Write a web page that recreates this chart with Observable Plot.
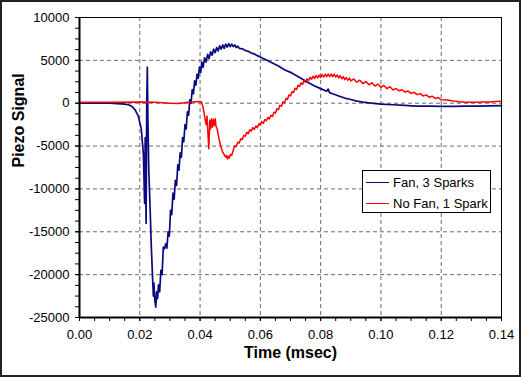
<!DOCTYPE html>
<html>
<head>
<meta charset="utf-8">
<script src="https://cdn.jsdelivr.net/npm/d3@7"></script>
<script src="https://cdn.jsdelivr.net/npm/@observablehq/plot@0.6"></script>
<style>
  html, body { margin: 0; padding: 0; background: #fff; }
  #wrap { position: relative; width: 521px; height: 377px; }
  #border { position: absolute; left: 0px; top: 0px; width: 517px; height: 373px; border: 2px solid #222; pointer-events: none; }
  #legend { position: absolute; left: 362px; top: 170px; width: 127px; height: 41px; border: 1px solid #000; background: #fff;
            font-family: "Liberation Sans", Arial, sans-serif; font-size: 13px; color: #000; }
  .row { position: absolute; left: 0; height: 16px; display: flex; align-items: center; }
  .sw { width: 23px; height: 0; border-top: 1.5px solid; margin-left: 3px; margin-right: 4px; }
</style>
</head>
<body>
<div id="wrap">
  <div id="chart"></div>
  <div id="legend"></div>
  <div id="border"></div>
</div>
<script>
// Series names
const seriesNames = ["Fan, 3 Sparks", "No Fan, 1 Spark"];
const seriesColors = ["#0a0a80", "#ff0000"];

// Fan, 3 Sparks: time (msec)
const fanTime = [
  0.000, 0.010, 0.0125, 0.0150, 0.0165, 0.0175, 0.0185, 0.0195, 0.0205, 0.0212,
  0.0216, 0.0218, 0.0221, 0.0223, 0.0225, 0.0227, 0.0230, 0.0234, 0.0238, 0.0242,
  0.0245, 0.0247, 0.0250, 0.0253, 0.0256, 0.0259, 0.0262, 0.0266, 0.0270, 0.0274,
  0.0278, 0.0282, 0.0286, 0.0290, 0.0294, 0.0298, 0.0302, 0.0306, 0.0310, 0.0314,
  0.0318, 0.0322, 0.0326, 0.0330, 0.0334, 0.0338, 0.0342, 0.0346, 0.0350, 0.0354,
  0.0358, 0.0362, 0.0366, 0.0370, 0.0374, 0.0378, 0.0382, 0.0386, 0.0390, 0.0394,
  0.0398, 0.0402, 0.0406, 0.0410, 0.0415, 0.0420, 0.0425, 0.0430, 0.0435, 0.0440,
  0.0445, 0.0450, 0.0455, 0.0460, 0.0465, 0.0470, 0.0475, 0.0480, 0.0485, 0.0490,
  0.0495, 0.0500, 0.0505, 0.0510, 0.0515, 0.0520, 0.0525, 0.0530, 0.0540, 0.0550,
  0.0560, 0.0570, 0.0580, 0.0590, 0.0600, 0.0610, 0.0620, 0.0640, 0.0660, 0.0680,
  0.0700, 0.0720, 0.0740, 0.0760, 0.0780, 0.0800, 0.0820, 0.0825, 0.0830, 0.0840,
  0.0860, 0.0880, 0.0900, 0.0920, 0.0940, 0.0960, 0.1000, 0.1040, 0.1080, 0.1100,
  0.1120, 0.1160, 0.1200, 0.1240, 0.1280, 0.1320, 0.1360, 0.1400
];
// Fan, 3 Sparks: piezo signal
const fanSignal = [
  0, 0, -50, -100, -200, -400, -800, -1500, -3000, -6000,
  -11700, -4000, -14000, 0, 4200, -2000, -8000, -12000, -16500, -20000,
  -22500, -21000, -23000, -23800, -22000, -22800, -21200, -22000, -19500, -20000,
  -16800, -17000, -16400, -16900, -15000, -15500, -12500, -13000, -10500, -11200,
  -9000, -9600, -7200, -7800, -5800, -6300, -4000, -4500, -2500, -3000,
  -1000, -1400, 400, 0, 1600, 1100, 2600, 2100, 3400, 2900,
  4200, 3600, 4800, 4200, 5300, 4800, 5700, 5200, 6000, 5600,
  6300, 5900, 6500, 6100, 6700, 6300, 6800, 6400, 6900, 6550,
  6950, 6600, 6900, 6600, 6800, 6500, 6650, 6400, 6350, 6150,
  6050, 5850, 5750, 5550, 5400, 5200, 5050, 4700, 4350, 3900,
  3600, 3200, 2800, 2400, 2000, 1700, 1400, 1650, 1200, 1100,
  850, 600, 430, 250, 120, 30, -100, -180, -260, -300,
  -330, -350, -360, -360, -350, -330, -300, -270
];

// No Fan, 1 Spark: time (msec)
const noFanTime = [
  0.000, 0.010, 0.020, 0.025, 0.030, 0.033, 0.036, 0.0400, 0.0405, 0.0410,
  0.0415, 0.0420, 0.0423, 0.0426, 0.0429, 0.0432, 0.0435, 0.0438, 0.0441, 0.0444,
  0.0447, 0.0450, 0.0453, 0.0456, 0.0460, 0.0465, 0.0470, 0.0475, 0.0480, 0.0485,
  0.0488, 0.0491, 0.0494, 0.0497, 0.0500, 0.0505,
  0.0510, 0.0515, 0.0520, 0.0525, 0.0530, 0.0535, 0.0540, 0.0545, 0.0550, 0.0555,
  0.0560, 0.0565, 0.0570, 0.0575, 0.0580, 0.0585, 0.0590, 0.0595, 0.0600, 0.0605,
  0.0610, 0.0615, 0.0620, 0.0625, 0.0630, 0.0635, 0.0640, 0.0645, 0.0650, 0.0655,
  0.0660, 0.0665, 0.0670, 0.0675, 0.0680, 0.0685, 0.0690, 0.0695, 0.0700, 0.0705,
  0.0710, 0.0715, 0.0720, 0.0725, 0.0730, 0.0735, 0.0740, 0.0745, 0.0750, 0.0755,
  0.0760, 0.0765, 0.0770, 0.0775, 0.0780, 0.0785, 0.0790, 0.0795, 0.0800, 0.0805,
  0.0810, 0.0815, 0.0820, 0.0825, 0.0830, 0.0835, 0.0840, 0.0845, 0.0850, 0.0855,
  0.0860, 0.0865, 0.0870, 0.0875, 0.0880, 0.0885, 0.0890, 0.0895, 0.0900, 0.0910,
  0.0920, 0.0930, 0.0940, 0.0950, 0.0960, 0.0970, 0.0980, 0.0990, 0.1000, 0.1010,
  0.1020, 0.1030, 0.1040, 0.1050, 0.1060, 0.1070, 0.1080, 0.1090, 0.1100, 0.1110,
  0.1120, 0.1130, 0.1140, 0.1150, 0.1160, 0.1170, 0.1180, 0.1190, 0.1200, 0.1220,
  0.1240, 0.1260, 0.1280, 0.1300, 0.1320, 0.1340, 0.1360, 0.1380, 0.1400
];
// No Fan, 1 Spark: piezo signal
const noFanSignal = [
  100, 120, 150, 100, 0, -20, 100, 200, 150, -500,
  -1500, -2500, -1500, -3500, -5300, -2000, -3000, -1800, -2800, -1900,
  -2600, -1800, -2700, -2900, -3600, -4500, -5200, -5700, -6000, -6300,
  -6100, -6500, -6200, -6400, -6000, -6100,
  -5500, -5000, -5050, -4550, -4650, -4150, -4250, -3750, -3850, -3400,
  -3550, -3100, -3250, -2850, -3050, -2650, -2850, -2400, -2550, -2150,
  -2350, -1900, -2050, -1650, -1850, -1400, -1550, -1050, -1150, -650,
  -750, -250, -350, 150, 50, 550, 450, 950, 850, 1350,
  1250, 1730, 1600, 2080, 1950, 2380, 2200, 2630, 2450, 2850,
  2650, 3030, 2800, 3150, 2900, 3230, 2950, 3280, 3000, 3330,
  3050, 3380, 3100, 3400, 3100, 3400, 3100, 3380, 3050, 3300,
  2950, 3200, 2850, 3100, 2750, 3000, 2680, 2930, 2600, 2830,
  2450, 2680, 2300, 2530, 2150, 2380, 2000, 2230, 1850, 2080,
  1700, 1930, 1550, 1720, 1450, 1570, 1300, 1420, 1150, 1270,
  1000, 1120, 850, 970, 700, 820, 550, 670, 400, 380,
  270, 180, 120, 100, 100, 130, 150, 200, 230
];

// Axis ticks
const xTicks = [0.00, 0.02, 0.04, 0.06, 0.08, 0.10, 0.12, 0.14];
const yTicks = [-25000, -20000, -15000, -10000, -5000, 0, 5000, 10000];
const xMinor = d3.range(0, 0.14 + 1e-9, 0.005);
const yMinor = d3.range(-25000, 10001, 1250);

const fan = fanTime.map((t, i) => ({t, v: fanSignal[i]}));
const noFan = noFanTime.map((t, i) => ({t, v: noFanSignal[i]}));

const font = "'Liberation Sans', Arial, Helvetica, sans-serif";
const chart = Plot.plot({
  width: 521,
  height: 377,
  marginLeft: 79,
  marginRight: 20,
  marginTop: 17,
  marginBottom: 60,
  style: {fontFamily: font, fontSize: "12px", background: "transparent", color: "#000"},
  x: {domain: [0, 0.14]},
  y: {domain: [-25000, 10000]},
  marks: [
    Plot.gridX(xTicks.slice(1, -1), {stroke: "#6a6a6a", strokeOpacity: 1, strokeDasharray: "4,3", strokeWidth: 1}),
    Plot.gridY(yTicks.slice(1, -1), {stroke: "#6a6a6a", strokeOpacity: 1, strokeDasharray: "4,3", strokeWidth: 1}),
    Plot.line(fan, {x: "t", y: "v", stroke: seriesColors[0], strokeWidth: 1.7}),
    Plot.line(noFan, {x: "t", y: "v", stroke: seriesColors[1], strokeWidth: 1.5}),
    Plot.frame({stroke: "#000", strokeWidth: 1}),
    Plot.ruleX([0], {stroke: "#000", strokeWidth: 2}),
    Plot.ruleY([-25000], {stroke: "#000", strokeWidth: 2}),
    Plot.axisX(xMinor, {tickSize: 4, tickFormat: null, text: null, label: null, strokeWidth: 1}),
    Plot.axisX(xTicks, {tickSize: 4, tickPadding: 8, tickFormat: d => d.toFixed(2), label: null, fontSize: 13}),
    Plot.axisY(yMinor, {tickSize: 4, tickFormat: null, text: null, label: null, strokeWidth: 1}),
    Plot.axisY(yTicks, {tickSize: 4, tickPadding: 6, tickFormat: d => String(d), label: null, fontSize: 13}),
    Plot.text(["Time (msec)"], {text: d => d, frameAnchor: "bottom", dy: 40, fontWeight: "bold", fontSize: 16}),
    Plot.text(["Piezo Signal"], {text: d => d, frameAnchor: "left", dx: -61, rotate: -90, fontWeight: "bold", fontSize: 16})
  ]
});
document.getElementById("chart").appendChild(chart);

// Legend
const legend = document.getElementById("legend");
seriesNames.forEach((name, i) => {
  const row = document.createElement("div");
  row.className = "row";
  row.style.top = (i === 0 ? 3 : 24) + "px";
  const sw = document.createElement("span");
  sw.className = "sw";
  sw.style.borderTopColor = seriesColors[i];
  const label = document.createElement("span");
  label.textContent = name;
  row.appendChild(sw);
  row.appendChild(label);
  legend.appendChild(row);
});
</script>
</body>
</html>
